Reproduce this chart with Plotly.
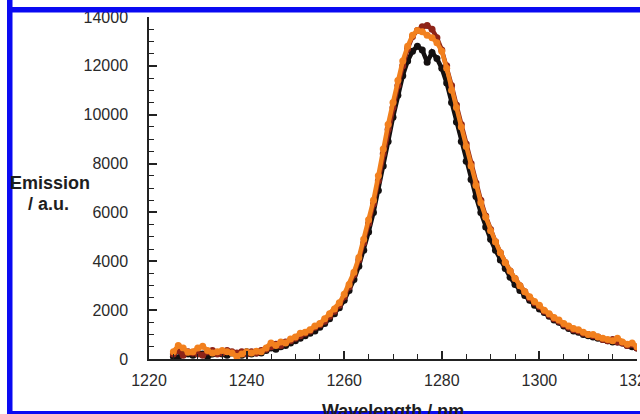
import plotly.graph_objects as go

# Emission spectra, sampled every 1 nm
wavelength_nm = list(range(1225, 1321))

emission_black = [
    100, 50, 250, 200, 150, 250, 200, 100, 200, 250,
    200, 150, 250, 200, 150, 300, 200, 250, 250, 350,
    450, 400, 500, 550, 650, 750, 850, 950, 1050, 1150,
    1300, 1450, 1650, 1850, 2100, 2400, 2800, 3250, 3800, 4450,
    5200, 6000, 6900, 7900, 8900, 9900, 10800, 11600, 12200, 12600,
    12800, 12650, 12150, 12550, 12300, 11900, 11300, 10500, 9700, 8900,
    8100, 7350, 6650, 6000, 5400, 4900, 4450, 4050, 3700, 3350,
    3050, 2800, 2600, 2400, 2200, 2050, 1900, 1750, 1600, 1500,
    1350, 1250, 1150, 1100, 1000, 950, 900, 850, 800, 750,
    700, 700, 650, 550, 500, 450,
]

emission_red = [
    200, 350, 150, 300, 250, 200, 150, 300, 350, 200,
    250, 350, 300, 250, 300, 200, 300, 250, 350, 400,
    500, 600, 550, 700, 750, 850, 950, 1050, 1150, 1300,
    1400, 1550, 1750, 1950, 2200, 2550, 2950, 3450, 4050, 4750,
    5550, 6350, 7300, 8400, 9400, 10300, 11200, 12000, 12700, 13200,
    13450, 13600, 13650, 13500, 13150, 12650, 12000, 11200, 10400, 9600,
    8800, 8000, 7200, 6500, 5850, 5300, 4800, 4350, 3950, 3600,
    3300, 3000, 2750, 2500, 2300, 2150, 1950, 1800, 1650, 1550,
    1400, 1300, 1200, 1150, 1050, 1000, 950, 900, 800, 750,
    800, 700, 650, 550, 600, 450,
]

emission_orange = [
    300, 550, 450, 280, 300, 450, 520, 350, 250, 300,
    350, 300, 250, 100, 200, 300, 250, 320, 300, 450,
    650, 550, 700, 650, 820, 900, 1050, 1100, 1200, 1350,
    1450, 1650, 1850, 2050, 2300, 2650, 3050, 3550, 4150, 4900,
    5700, 6500, 7500, 8600, 9600, 10500, 11400, 12200, 12800, 13250,
    13450, 13400, 13250, 13150, 12950, 12600, 11900, 11000, 10300, 9500,
    8700, 7900, 7100, 6400, 5800, 5250, 4800, 4350, 3950, 3600,
    3300, 3000, 2750, 2550, 2350, 2200, 2000, 1850, 1700, 1600,
    1450, 1350, 1250, 1200, 1100, 1000, 1000, 900, 850, 800,
    750, 850, 700, 600, 650, 500,
]

x_ticks = [1220, 1240, 1260, 1280, 1300, 1320]
y_ticks = [0, 2000, 4000, 6000, 8000, 10000, 12000, 14000]

series = [
    (emission_black, "#141010"),
    (emission_red, "#8e2418"),
    (emission_orange, "#f2801e"),
]

# Page geometry (pixels)
W, H = 640, 414
L, R, T, B = 149, 3, 17, 55
plot_w = W - L - R
plot_h = H - T - B


def px(xp):
    return (xp - L) / plot_w


def py(yp):
    return (H - B - yp) / plot_h


fig = go.Figure()
for values, color in series:
    assert len(values) == len(wavelength_nm)
    fig.add_trace(go.Scatter(
        x=wavelength_nm, y=values, mode="lines+markers",
        line=dict(color=color, width=4.5),
        marker=dict(color=color, size=7),
        showlegend=False,
    ))

axis_font = dict(family="Liberation Sans, Arial, sans-serif", size=16, color="#2a2a2a")

fig.update_xaxes(
    range=[1220, 1320], tickvals=x_ticks, ticktext=[str(v) for v in x_ticks],
    ticks="inside", ticklen=8, tickwidth=1.5, tickcolor="#222",
    minor=dict(ticks="inside", dtick=5, ticklen=5, tickwidth=1.2, tickcolor="#222"),
    showline=True, linecolor="#222", linewidth=1.5, mirror=False,
    showgrid=False, zeroline=False, tickfont=axis_font,
    ticklabelstandoff=6, automargin=False, ticklabeloverflow="allow",
)
fig.update_yaxes(
    range=[0, 14000], tickvals=y_ticks, ticktext=[str(v) for v in y_ticks],
    ticks="inside", ticklen=8, tickwidth=1.5, tickcolor="#222",
    minor=dict(ticks="inside", dtick=500, ticklen=5, tickwidth=1.2, tickcolor="#222"),
    showline=True, linecolor="#222", linewidth=1.5, mirror=False,
    showgrid=False, zeroline=False, tickfont=axis_font,
    ticklabelstandoff=16, automargin=False, ticklabeloverflow="allow",
)

label_font = dict(family="Liberation Sans, Arial, sans-serif", size=18, color="#1e1e1e")
annotations = [
    dict(text="<b>Emission</b>", x=px(8), y=py(183), xanchor="left", yanchor="middle"),
    dict(text="<b>/ a.u.</b>", x=px(48), y=py(204), xanchor="center", yanchor="middle"),
    dict(text="<b>Wavelength / nm</b>", x=px(393), y=py(411), xanchor="center",
         yanchor="middle"),
]
for a in annotations:
    a["font"] = label_font
    a.update(xref="paper", yref="paper", showarrow=False)

# Blue frame around the figure (left, top and bottom edges)
frame_color = "#0a0af2"
frame = [
    (7, 0, 12.5, H + 5),
    (7, 7, W + 5, 12.5),
    (7, 411, W + 5, H + 5),
]
shapes = [
    dict(type="rect", xref="paper", yref="paper",
         x0=px(x0), x1=px(x1), y0=py(y1), y1=py(y0),
         fillcolor=frame_color, line=dict(width=0), layer="above")
    for x0, y0, x1, y1 in frame
]

fig.update_layout(
    width=W, height=H, template="none",
    margin=dict(l=L, r=R, t=T, b=B, pad=0),
    paper_bgcolor="white", plot_bgcolor="white",
    annotations=annotations, shapes=shapes,
)

fig.write_html("out.html")
